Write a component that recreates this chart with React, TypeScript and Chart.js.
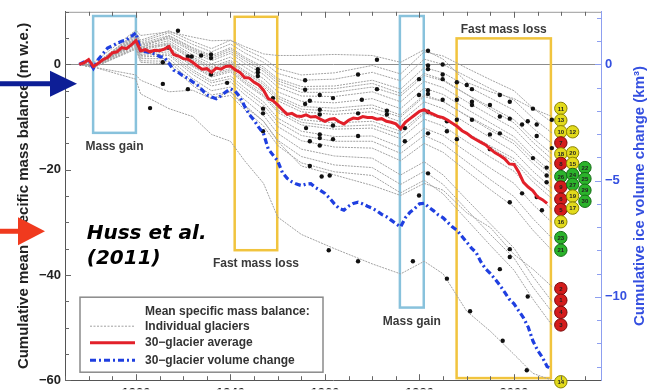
import { useEffect, useRef } from 'react';
import { Chart, registerables } from 'chart.js';

Chart.register(...registerables);

const FONT = '"Liberation Sans", Arial, Helvetica, sans-serif';

// Axis ranges
const X_MIN = 1905;
const X_MAX = 2018.4;
const Y_MIN = -60;
const Y_MAX = 10;
const V_MIN = -13.585;
const V_MAX = 2.263;

// 30-glacier average (m w.e.)
const RED_YEARS = [1908, 1909, 1910, 1911, 1912, 1913, 1914, 1915, 1916, 1917, 1918, 1919, 1920, 1921, 1922, 1923, 1924, 1925, 1926, 1927, 1928, 1929, 1930, 1931, 1932, 1933, 1934, 1935, 1936, 1937, 1938, 1939, 1940, 1941, 1942, 1943, 1944, 1945, 1946, 1947, 1948, 1949, 1950, 1951, 1952, 1953, 1954, 1955, 1956, 1957, 1958, 1959, 1960, 1961, 1962, 1963, 1964, 1965, 1966, 1967, 1968, 1969, 1970, 1971, 1972, 1973, 1974, 1975, 1976, 1977, 1978, 1979, 1980, 1981, 1982, 1983, 1984, 1985, 1986, 1987, 1988, 1989, 1990, 1991, 1992, 1993, 1994, 1995, 1996, 1997, 1998, 1999, 2000, 2001, 2002, 2003, 2004, 2005, 2006, 2007];
const RED_VALUES = [0, 0.3, 0.9, -0.4, 0.2, 0.9, 1.3, 2.2, 2.4, 3.2, 3.0, 3.7, 4.5, 2.6, 2.8, 2.4, 2.7, 2.6, 2.9, 3.4, 1.9, 1.6, 1.1, 1.0, 0.4, -0.3, -0.9, -0.8, -1.5, -0.7, -0.9, -0.4, -0.3, -1.0, -1.5, -2.5, -2.6, -3.4, -3.9, -4.9, -6.5, -6.9, -7.7, -8.6, -9.5, -9.3, -9.8, -9.9, -9.6, -10.0, -9.9, -10.4, -10.8, -10.4, -10.3, -10.9, -11.3, -10.6, -10.2, -10.3, -9.9, -10.1, -10.1, -10.4, -10.3, -10.8, -11.0, -11.3, -12.2, -11.0, -10.3, -9.6, -8.9, -8.6, -9.1, -9.5, -9.9, -10.1, -10.6, -11.2, -11.8, -12.6, -13.1, -13.8, -14.3, -14.8, -15.3, -16.1, -16.8, -17.3, -17.9, -18.9, -19.0, -20.5, -22.4, -23.3, -24.0, -25.2, -25.7, -26.4];

// 30-glacier volume change (km3, right axis)
const BLUE_YEARS = [1908, 1909, 1910, 1911, 1912, 1913, 1914, 1915, 1916, 1917, 1918, 1919, 1920, 1921, 1922, 1923, 1924, 1925, 1926, 1927, 1928, 1929, 1930, 1931, 1932, 1933, 1934, 1935, 1936, 1937, 1938, 1939, 1940, 1941, 1942, 1943, 1944, 1945, 1946, 1947, 1948, 1949, 1950, 1951, 1952, 1953, 1954, 1955, 1956, 1957, 1958, 1959, 1960, 1961, 1962, 1963, 1964, 1965, 1966, 1967, 1968, 1969, 1970, 1971, 1972, 1973, 1974, 1975, 1976, 1977, 1978, 1979, 1980, 1981, 1982, 1983, 1984, 1985, 1986, 1987, 1988, 1989, 1990, 1991, 1992, 1993, 1994, 1995, 1996, 1997, 1998, 1999, 2000, 2001, 2002, 2003, 2004, 2005, 2006, 2007, 2008];
const BLUE_VALUES = [0, 0.1, 0.15, -0.17, 0.2, 0.45, 0.7, 0.8, 0.9, 1.0, 1.06, 1.2, 1.36, 0.59, 0.55, 0.51, 0.45, 0.34, 0.3, 0.05, -0.25, -0.35, -0.5, -0.6, -0.75, -0.89, -1.1, -1.31, -1.4, -1.48, -1.35, -1.19, -1.05, -1.15, -1.4, -1.8, -2.16, -2.4, -2.71, -2.97, -3.64, -3.9, -4.15, -4.66, -4.9, -5.05, -5.15, -5.21, -5.15, -5.13, -5.3, -5.42, -5.55, -5.76, -6.0, -6.2, -6.27, -6.1, -5.98, -5.93, -6.0, -6.1, -6.19, -6.3, -6.45, -6.55, -6.7, -6.85, -6.99, -6.6, -6.36, -6.2, -6.0, -5.97, -6.15, -6.3, -6.48, -6.6, -6.8, -7.0, -7.15, -7.4, -7.65, -7.9, -8.1, -8.5, -8.8, -9.0, -9.24, -9.5, -9.8, -10.1, -10.3, -10.6, -10.9, -11.3, -11.9, -12.3, -12.6, -13.0, -13.1];

// Individual glaciers (m w.e.)
const GRAY_YEARS = [1908, 1911, 1920, 1921, 1927, 1932, 1936, 1940, 1943, 1947, 1950, 1955, 1962, 1970, 1976, 1981, 1985, 1990, 1995, 2000, 2004, 2008];
const GRAY_LINES = [
  [0, 0.3, 6.5, 5.5, 6.2, 5.2, 4.5, 4.6, 3.4, 2.0, 1.7, 1.7, 1.9, 1.7, 0.4, 2.8, 1.0, -3.4, -5.2, -6.5, -8.4, -9.9],
  [0, -0.2, 6.0, 4.6, 6.4, 4.4, 3.0, 4.6, 2.9, 1.2, -0.8, -2.0, -1.6, -0.2, -1.8, 2.4, 1.6, -0.7, -2.9, -5.0, -8.3, -11.0],
  [0, -0.2, 5.8, 4.3, 6.0, 3.8, 2.4, 3.9, 2.2, 0.4, -1.7, -3.0, -2.8, -1.5, -3.1, 1.0, 0.0, -2.3, -4.6, -6.8, -10.2, -13.0],
  [0, -0.3, 5.6, 4.0, 5.5, 3.2, 1.7, 3.2, 1.4, -0.5, -2.7, -4.2, -4.1, -3.0, -4.7, -0.6, -1.6, -4.1, -6.4, -8.7, -12.1, -15.0],
  [0, -0.3, 5.4, 3.8, 5.1, 2.7, 1.1, 2.5, 0.7, -1.3, -3.6, -5.3, -5.3, -4.3, -6.0, -2.1, -3.1, -5.7, -8.1, -10.5, -14.0, -17.0],
  [0, -0.3, 4.0, 3.2, 5.4, 3.0, 1.4, 2.9, 1.1, -0.9, -3.1, -4.7, -4.6, -3.6, -5.5, -1.7, -2.9, -5.7, -8.5, -11.1, -14.8, -18.0],
  [0, -0.3, 5.2, 3.6, 4.9, 2.4, 0.7, 2.1, 0.2, -1.9, -4.3, -6.0, -6.1, -5.2, -7.1, -3.2, -4.4, -7.1, -9.7, -12.2, -15.9, -19.0],
  [0, -0.3, 5.0, 3.3, 4.5, 1.8, 0.1, 1.4, -0.5, -2.7, -5.2, -7.0, -7.3, -6.5, -8.4, -4.5, -5.7, -8.5, -11.1, -13.7, -17.4, -20.5],
  [0, -0.4, 4.9, 3.1, 4.1, 1.4, -0.4, 0.8, -1.2, -3.4, -6.0, -8.0, -8.3, -7.7, -9.6, -5.8, -7.0, -9.8, -12.5, -15.1, -18.8, -22.0],
  [0, -0.4, 4.8, 3.0, 3.9, 1.1, -0.7, 0.5, -1.5, -3.8, -6.4, -8.5, -8.9, -8.3, -10.0, -6.1, -7.1, -9.7, -12.1, -14.5, -18.0, -21.0],
  [0, -0.4, 4.7, 2.8, 3.7, 0.8, -1.0, 0.2, -1.9, -4.2, -6.9, -9.0, -9.5, -9.0, -10.9, -7.1, -8.4, -11.2, -13.9, -16.6, -20.3, -23.5],
  [0, -0.4, 4.4, 2.5, 3.2, 0.1, -1.8, -0.8, -2.9, -5.3, -8.2, -10.5, -11.1, -10.8, -12.7, -9.0, -10.2, -13.1, -15.8, -18.5, -22.3, -25.5],
  [0, -0.5, 4.3, 2.3, 3.0, -0.2, -2.1, -1.1, -3.3, -5.8, -8.7, -11.0, -11.8, -11.5, -13.3, -9.3, -10.4, -13.0, -15.5, -17.9, -21.5, -24.5],
  [0, -0.4, 4.2, 2.2, 2.8, -0.4, -2.4, -1.4, -3.6, -6.1, -9.1, -11.5, -12.3, -12.1, -14.1, -10.4, -11.7, -14.7, -17.6, -20.3, -24.2, -27.5],
  [0, -0.5, 4.0, 1.9, 2.4, -1.0, -3.1, -2.2, -4.4, -7.1, -10.2, -12.7, -13.7, -13.6, -15.7, -12.1, -13.5, -16.6, -19.7, -22.6, -26.6, -30.0],
  [0, -0.5, 3.8, 1.7, 2.0, -1.4, -3.5, -2.7, -5.0, -7.7, -10.9, -13.5, -14.6, -14.6, -16.9, -13.5, -15.1, -18.5, -21.9, -25.1, -29.3, -33.0],
  [0, -0.5, 3.6, 1.4, 1.7, -1.9, -4.1, -3.3, -5.7, -8.5, -11.8, -14.5, -15.7, -15.9, -18.3, -15.0, -16.7, -20.3, -23.8, -27.1, -31.5, -35.3],
  [0, -0.6, 3.3, 1.1, 1.1, -2.7, -5.0, -4.3, -6.7, -9.7, -13.1, -16.1, -17.4, -17.8, -21.0, -18.5, -21.0, -25.7, -30.3, -34.9, -40.3, -45.0],
  [0, -0.6, 3.1, 0.7, 0.6, -3.4, -5.8, -5.2, -7.7, -10.8, -14.4, -17.5, -19.1, -19.6, -22.8, -20.3, -22.8, -27.6, -32.3, -36.8, -42.3, -47.0],
  [0, -0.6, 2.9, 0.4, 0.1, -4.0, -6.5, -5.9, -8.6, -11.7, -15.4, -18.7, -20.4, -21.1, -24.4, -22.0, -24.6, -29.5, -34.4, -39.1, -44.6, -49.5],
  [0, -0.5, -2.0, -3.0, -5.2, -4.9, -6.5, -5.2, -8.0, -10.8, -14.6, -19.3, -21.0, -23.0, -24.9, -22.6, -23.9, -28.2, -31.0, -36.1, -38.9, -42.2],
  [0, -0.5, -2.8, -5.6, -8.4, -9.9, -13.3, -14.6, -18.3, -22.6, -29.0, -32.3, -35.0, -37.9, -39.8, -37.4, -39.8, -46.9, -50.7, -55.1, -58.7, -60.0],
];

// Measurement dots on individual glacier curves
const DOT_YEARS = [1923.0, 1925.7, 1925.7, 1926.8, 1928.9, 1931.0, 1931.8, 1931.0, 1933.8, 1935.9, 1935.9, 1935.9, 1939.3, 1945.8, 1945.8, 1945.8, 1946.9, 1946.9, 1946.9, 1949.0, 1955.8, 1955.8, 1955.8, 1956.0, 1956.8, 1956.8, 1956.8, 1958.9, 1958.9, 1958.9, 1958.9, 1958.9, 1958.9, 1959.3, 1960.8, 1961.7, 1961.7, 1961.7, 1961.0, 1967.0, 1967.8, 1967.0, 1967.0, 1967.0, 1971.0, 1971.0, 1973.1, 1973.1, 1976.9, 1976.9, 1978.6, 1979.9, 1979.9, 1979.9, 1981.8, 1981.8, 1981.8, 1981.8, 1981.8, 1981.8, 1981.8, 1981.8, 1984.9, 1984.9, 1984.9, 1984.9, 1985.8, 1985.8, 1985.8, 1987.9, 1987.9, 1987.9, 1987.9, 1990.0, 1991.1, 1991.1, 1991.1, 1991.1, 1990.7, 1994.9, 1994.9, 1994.9, 1997.0, 1997.0, 1997.0, 1997.0, 1997.6, 1999.1, 1999.1, 1999.1, 1999.1, 1999.1, 2001.7, 2001.7, 2002.7, 2002.9, 2002.9, 2004.0, 2004.0, 2004.8, 2004.8, 2004.8, 2005.9, 2006.9, 2006.9, 2006.9, 2008.0, 2008.0];
const DOT_VALUES = [-8.3, 0.4, -3.7, 3.2, 6.4, 1.5, 1.5, -4.7, 1.7, 1.9, 1.2, -1.9, -3.5, -0.9, -1.5, -2.2, -8.4, -9.3, -12.7, -6.4, -3.0, -4.8, -7.5, -12.1, -6.9, -14.6, -19.3, -5.8, -8.6, -9.5, -13.3, -14.0, -15.4, -21.3, -35.3, -6.4, -11.6, -14.2, -21.1, -1.9, -6.7, -9.3, -13.6, -37.4, 0.9, -4.7, -8.8, -9.5, -12.1, -14.6, -37.4, -2.8, -5.8, -24.9, 2.6, -0.2, -0.9, -4.9, -5.6, -9.0, -13.1, -20.7, 0.0, -1.9, -2.8, -6.7, -10.8, -12.7, -40.7, -3.4, -6.7, -10.5, -14.2, -3.9, -4.7, -7.1, -7.7, -10.5, -46.9, -7.7, -13.3, -16.1, -5.8, -9.9, -13.1, -38.9, -52.5, -7.1, -10.3, -26.2, -35.1, -36.6, -11.4, -24.5, -58.1, -10.8, -44.1, -8.4, -17.8, -11.4, -13.6, -25.2, -27.7, -19.6, -21.1, -22.4, -10.5, -15.9];

// Final-state markers per glacier
const END_YEARS = [2009.9, 2009.9, 2009.9, 2009.9, 2009.9, 2009.9, 2009.9, 2009.9, 2009.9, 2009.9, 2009.9, 2009.9, 2009.9, 2009.9, 2009.9, 2009.9, 2009.9, 2009.9, 2012.4, 2012.4, 2012.4, 2012.4, 2012.4, 2012.4, 2012.4, 2015.0, 2015.0, 2015.0, 2015.0];
const END_VALUES = [-8.35, -10.6, -12.8, -14.9, -17.0, -18.8, -21.3, -23.3, -25.6, -27.6, -29.9, -32.9, -35.3, -42.6, -44.8, -47.1, -49.5, -60.3, -12.8, -16.8, -18.8, -20.9, -22.8, -25.0, -27.3, -19.6, -21.7, -23.9, -26.0];
const END_CLASS = ['y', 'y', 'y', 'r', 'y', 'r', 'g', 'r', 'r', 'r', 'y', 'g', 'g', 'r', 'r', 'r', 'r', 'y', 'y', 'y', 'y', 'g', 'g', 'y', 'y', 'g', 'g', 'g', 'g'];
const END_LABELS = ['11', '13', '10', '7', '18', '8', '26', '9', '6', '5', '16', '23', '21', '2', '1', '4', '3', '14', '12', '20', '15', '24', '27', '19', '17', '22', '25', '29', '30'];

// Highlight periods
const BOX_X0 = [1910.95, 1940.9, 1975.85, 1987.85];
const BOX_X1 = [1920.0, 1949.9, 1980.9, 2007.8];
const BOX_Y0 = [9.2, 9.05, 9.2, 4.95];
const BOX_Y1 = [-13.0, -35.3, -46.2, -59.6];
const BOX_KIND = ['gain', 'loss', 'gain', 'loss'];
const BOX_LABELS = ['Mass gain', 'Fast mass loss', 'Mass gain', 'Fast mass loss'];
const BOX_LABEL_POS = ['below', 'below', 'below', 'above'];

// Tick labels
const X_LABEL_STEP = 20;
const Y_LABEL_STEP = 20;
const V_LABEL_STEP = 5;

const FILL: Record<string, string> = { y: '#e2da1c', r: '#d41c1c', g: '#2bb32b' };
const EDGE: Record<string, string> = { y: '#8a8200', r: '#7a0a0a', g: '#146c14' };

const fmt = (v: number) => (v < 0 ? '\u2212' + Math.abs(v) : String(Math.abs(v)));

const overlay = {
  id: 'overlay',
  beforeDatasetsDraw(chart: any) {
    const { ctx } = chart;
    const xs = chart.scales.x;
    const ys = chart.scales.y;
    ctx.save();
    BOX_LABELS.forEach((lab, i) => {
      const l = xs.getPixelForValue(BOX_X0[i]);
      const r = xs.getPixelForValue(BOX_X1[i]);
      const t = ys.getPixelForValue(BOX_Y0[i]);
      const b = ys.getPixelForValue(BOX_Y1[i]);
      ctx.strokeStyle = BOX_KIND[i] === 'gain' ? '#88c2dc' : '#f1c43e';
      ctx.lineWidth = 2.5;
      ctx.strokeRect(l, t, r - l, b - t);
      ctx.font = `bold 12px ${FONT}`;
      ctx.fillStyle = '#3a3a3a';
      ctx.textAlign = 'center';
      ctx.textBaseline = 'alphabetic';
      if (BOX_LABEL_POS[i] === 'above') ctx.fillText(lab, (l + r) / 2, t - 5);
      else ctx.fillText(lab, (l + r) / 2, b + 17);
    });
    ctx.restore();
  },
  afterDraw(chart: any) {
    const { ctx, chartArea: ca } = chart;
    const xs = chart.scales.x;
    const ys = chart.scales.y;
    const vs = chart.scales.y2;
    ctx.save();

    // top frame line
    ctx.strokeStyle = '#9a9a9a';
    ctx.lineWidth = 1;
    ctx.beginPath();
    ctx.moveTo(ca.left, ca.top + 0.5);
    ctx.lineTo(ca.right, ca.top + 0.5);
    ctx.stroke();

    const seg = (x1: number, y1: number, x2: number, y2: number) => {
      ctx.beginPath();
      ctx.moveTo(x1, y1);
      ctx.lineTo(x2, y2);
      ctx.stroke();
    };
    // inward ticks
    ctx.strokeStyle = '#666';
    xs.ticks.forEach((t: any) => {
      const p = Math.round(xs.getPixelForValue(t.value)) + 0.5;
      const len = t.value % X_LABEL_STEP === 0 ? 6 : 4;
      seg(p, ca.bottom, p, ca.bottom - len);
      seg(p, ca.top, p, ca.top + len);
    });
    ys.ticks.forEach((t: any) => {
      const p = Math.round(ys.getPixelForValue(t.value)) + 0.5;
      const len = t.value % Y_LABEL_STEP === 0 ? 6 : 4;
      seg(ca.left, p, ca.left + len, p);
    });
    ctx.strokeStyle = '#8d9ff0';
    vs.ticks.forEach((t: any) => {
      const p = Math.round(vs.getPixelForValue(t.value)) + 0.5;
      const len = t.value % V_LABEL_STEP === 0 ? 6 : 4;
      seg(ca.right, p, ca.right - len, p);
    });

    // right axis title
    ctx.save();
    ctx.translate(640, (ca.top + ca.bottom) / 2);
    ctx.rotate(-Math.PI / 2);
    ctx.font = `bold 15px ${FONT}`;
    ctx.fillStyle = '#3550e0';
    ctx.textAlign = 'center';
    ctx.textBaseline = 'middle';
    ctx.fillText('Cumulative ice volume change (km\u00b3)', 0, 0);
    ctx.restore();

    // citation
    ctx.font = `italic bold 20px "DejaVu Sans", Verdana, sans-serif`;
    ctx.fillStyle = '#000';
    ctx.textAlign = 'left';
    ctx.textBaseline = 'alphabetic';
    const hx = xs.getPixelForValue(1909.6);
    ctx.fillText('Huss et al.', hx, ys.getPixelForValue(-33.1));
    ctx.fillText('(2011)', hx, ys.getPixelForValue(-37.9));

    // legend
    const lx = ca.left + 15;
    const ly = ca.bottom - 83;
    const lw = 243;
    const lh = 75;
    ctx.fillStyle = '#fff';
    ctx.fillRect(lx, ly, lw, lh);
    ctx.strokeStyle = '#8a8a8a';
    ctx.lineWidth = 1.5;
    ctx.strokeRect(lx, ly, lw, lh);
    ctx.font = `bold 12px ${FONT}`;
    ctx.fillStyle = '#333';
    ctx.textBaseline = 'middle';
    ctx.textAlign = 'left';
    ctx.fillText('Mean specific mass balance:', lx + 65, ly + 14);
    ctx.fillText('Individual glaciers', lx + 65, ly + 29);
    ctx.fillText('30\u2212glacier average', lx + 65, ly + 45.5);
    ctx.fillText('30\u2212glacier volume change', lx + 65, ly + 63);
    ctx.strokeStyle = '#a0a0a0';
    ctx.lineWidth = 1;
    ctx.setLineDash([2, 1.5]);
    seg(lx + 10, ly + 29, lx + 55, ly + 29);
    ctx.setLineDash([]);
    ctx.strokeStyle = '#e2202a';
    ctx.lineWidth = 3;
    seg(lx + 10, ly + 45.5, lx + 55, ly + 45.5);
    ctx.strokeStyle = '#1f3fe0';
    ctx.setLineDash([6, 3, 2, 3]);
    seg(lx + 10, ly + 63, lx + 55, ly + 63);
    ctx.setLineDash([]);

    // marker numbers
    const meta = chart.getDatasetMeta(0);
    ctx.font = `bold 6px ${FONT}`;
    ctx.fillStyle = '#222';
    ctx.textAlign = 'center';
    ctx.textBaseline = 'middle';
    meta.data.forEach((pt: any, i: number) => {
      ctx.fillText(END_LABELS[i], pt.x, pt.y + 0.5);
    });

    // presentation arrows
    const arrow = (tipX: number, yc: number, headLen: number, headHalf: number, shaft: number, color: string) => {
      ctx.fillStyle = color;
      ctx.fillRect(0, yc - shaft / 2, tipX - headLen + 2, shaft);
      ctx.beginPath();
      ctx.moveTo(tipX - headLen, yc - headHalf);
      ctx.lineTo(tipX, yc);
      ctx.lineTo(tipX - headLen, yc + headHalf);
      ctx.closePath();
      ctx.fill();
    };
    arrow(77, ys.getPixelForValue(-3.67), 27, 13, 5, '#0d1e96');
    arrow(45, ys.getPixelForValue(-31.7), 27, 14, 5, '#f03a1e');

    ctx.restore();
  },
};

export default function App() {
  const ref = useRef<HTMLCanvasElement>(null);
  useEffect(() => {
    document.body.style.margin = '0';
    const grayDatasets = GRAY_LINES.map((line) => ({
      type: 'line' as const,
      data: GRAY_YEARS.map((x, i) => ({ x, y: line[i] })),
      borderColor: '#a2a2a2',
      borderWidth: 1,
      borderDash: [2, 1],
      pointRadius: 0,
      yAxisID: 'y',
    }));
    const chart = new Chart(ref.current as HTMLCanvasElement, {
      type: 'line',
      data: {
        datasets: [
          {
            type: 'scatter',
            data: END_YEARS.map((x, i) => ({ x, y: END_VALUES[i] })),
            pointRadius: 6.2,
            pointBackgroundColor: END_CLASS.map((c) => FILL[c]),
            pointBorderColor: END_CLASS.map((c) => EDGE[c]),
            pointBorderWidth: 1,
            showLine: false,
            clip: false,
            yAxisID: 'y',
          } as any,
          {
            data: RED_YEARS.map((x, i) => ({ x, y: RED_VALUES[i] })),
            borderColor: '#e2202a',
            borderWidth: 3,
            pointRadius: 0,
            yAxisID: 'y',
          },
          {
            data: BLUE_YEARS.map((x, i) => ({ x, y: BLUE_VALUES[i] })),
            borderColor: '#1f3fe0',
            borderWidth: 3.2,
            borderDash: [6, 3, 2, 3],
            pointRadius: 0,
            yAxisID: 'y2',
          },
          {
            type: 'scatter',
            data: DOT_YEARS.map((x, i) => ({ x, y: DOT_VALUES[i] })),
            pointRadius: 2.2,
            pointBackgroundColor: '#111',
            pointBorderWidth: 0,
            showLine: false,
            yAxisID: 'y',
          } as any,
          ...grayDatasets,
        ],
      },
      options: {
        responsive: false,
        animation: false,
        devicePixelRatio: 1,
        layout: { padding: { top: 9, left: 0, right: 0, bottom: 0 } },
        plugins: { legend: { display: false }, tooltip: { enabled: false } },
        scales: {
          x: {
            type: 'linear',
            min: X_MIN,
            max: X_MAX,
            afterFit: (s: any) => {
              s.height = 9;
            },
            grid: { display: false, drawTicks: false },
            border: { display: true, color: '#555', width: 1 },
            ticks: {
              stepSize: 5,
              autoSkip: false,
              includeBounds: false,
              minRotation: 0,
              maxRotation: 0,
              padding: 5,
              color: '#222',
              font: { family: FONT, size: 13, weight: 'bold' },
              callback: (v: any) => (Number(v) % X_LABEL_STEP === 0 ? String(v) : ''),
            },
          },
          y: {
            type: 'linear',
            position: 'left',
            min: Y_MIN,
            max: Y_MAX,
            afterFit: (s: any) => {
              s.width = 65;
            },
            grid: {
              drawTicks: false,
              color: (c: any) => (c.tick && c.tick.value === 0 ? '#8c8c8c' : 'rgba(0,0,0,0)'),
              lineWidth: 1,
            },
            border: { display: true, color: '#555', width: 1 },
            title: {
              display: true,
              text: 'Cumulative mean specific mass balance (m w.e.)',
              color: '#222',
              font: { family: FONT, size: 15, weight: 'bold' },
              padding: { top: 15, bottom: 0 },
            },
            ticks: {
              stepSize: 5,
              autoSkip: false,
              includeBounds: false,
              padding: 4,
              color: '#222',
              font: { family: FONT, size: 13, weight: 'bold' },
              callback: (v: any) => (Number(v) % Y_LABEL_STEP === 0 ? fmt(Number(v)) : ''),
            },
          },
          y2: {
            type: 'linear',
            position: 'right',
            min: V_MIN,
            max: V_MAX,
            afterFit: (s: any) => {
              s.width = 59;
            },
            grid: { display: false, drawTicks: false },
            border: { display: true, color: '#8d9ff0', width: 1 },
            ticks: {
              stepSize: 1,
              autoSkip: false,
              includeBounds: false,
              padding: 4,
              color: '#3550e0',
              font: { family: FONT, size: 13, weight: 'bold' },
              callback: (v: any) => (Number(v) % V_LABEL_STEP === 0 ? fmt(Number(v)) : ''),
            },
          },
        },
      } as any,
      plugins: [overlay],
    });
    return () => chart.destroy();
  }, []);
  return <canvas ref={ref} width={660} height={392} style={{ display: 'block', width: 660, height: 392 }} />;
}
